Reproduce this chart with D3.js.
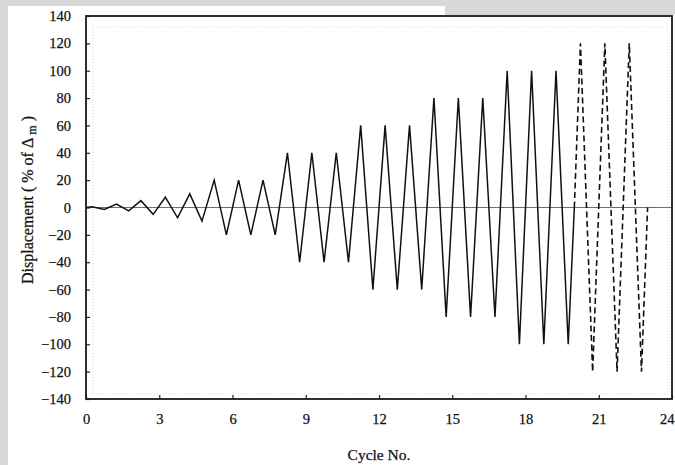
<!DOCTYPE html>
<html>
<head>
<meta charset="utf-8">
<script src="https://cdn.jsdelivr.net/npm/d3@7"></script>
<style>
  body { margin: 0; background: #fff; }
  svg { display: block; }
</style>
</head>
<body>
<div id="plot"></div>
<script>
// loading history (cycle no. / % of delta_m)
var solidCycle = [0, 0.25, 0.75, 1.25, 1.75, 2.25, 2.75, 3.25, 3.75, 4.25, 4.75,
  5.25, 5.75, 6.25, 6.75, 7.25, 7.75,
  8.25, 8.75, 9.25, 9.75, 10.25, 10.75,
  11.25, 11.75, 12.25, 12.75, 13.25, 13.75,
  14.25, 14.75, 15.25, 15.75, 16.25, 16.75,
  17.25, 17.75, 18.25, 18.75, 19.25, 19.75, 20];
var solidDisp = [0, 0.5, -1.5, 2.5, -2.5, 5, -5, 7.5, -7.5, 10, -10,
  20, -20, 20, -20, 20, -20,
  40, -40, 40, -40, 40, -40,
  60, -60, 60, -60, 60, -60,
  80, -80, 80, -80, 80, -80,
  100, -100, 100, -100, 100, -100, 0];
var dashedCycle = [20, 20.25, 20.75, 21.25, 21.75, 22.25, 22.75, 23];
var dashedDisp = [0, 120, -120, 120, -120, 120, -120, 0];

var xTicks = [0, 3, 6, 9, 12, 15, 18, 21, 24];
var yTicks = [-140, -120, -100, -80, -60, -40, -20, 0, 20, 40, 60, 80, 100, 120, 140];

var W = 675, H = 465;
var margin = {top: 16, right: 3, bottom: 66, left: 86};
var width = W - margin.left - margin.right,
  height = H - margin.top - margin.bottom;
var serif = "'Liberation Serif', 'DejaVu Serif', serif";

var svg = d3.select("#plot").append("svg")
  .attr("width", W)
  .attr("height", H);

// scanned page edges
svg.append("rect").attr("x", 0).attr("y", 0).attr("width", W).attr("height", H).attr("fill", "#d8d8d8");
svg.append("rect").attr("x", 8).attr("y", 6).attr("width", W - 8).attr("height", H - 6).attr("fill", "#fff");
svg.append("rect").attr("x", 445).attr("y", 6).attr("width", W - 445).attr("height", 9).attr("fill", "#d8d8d8");

var xScale = d3.scaleLinear().domain([0, 24]).range([0, width]);
var yScale = d3.scaleLinear().domain([-140, 140]).range([height, 0]);

var g = svg.append("g")
  .attr("transform", "translate(" + margin.left + "," + margin.top + ")");

// faint dotted inner frame from the scan
g.append("rect")
  .attr("x", 7).attr("y", 11)
  .attr("width", width - 11).attr("height", height - 16)
  .attr("fill", "none")
  .attr("stroke", "#d0d0d0")
  .attr("stroke-width", 0.8)
  .attr("stroke-dasharray", "1,2");

var xAxis = d3.axisBottom(xScale).tickValues(xTicks).tickSizeInner(-4).tickSizeOuter(0).tickPadding(15);
var yAxis = d3.axisLeft(yScale).tickValues(yTicks).tickSizeInner(-4).tickSizeOuter(0).tickPadding(15);

g.append("g")
  .attr("class", "x axis")
  .attr("transform", "translate(0," + height + ")")
  .call(xAxis);

g.append("g")
  .attr("class", "y axis")
  .call(yAxis);

g.selectAll(".axis .domain").remove();
g.selectAll(".axis line").attr("stroke", "#222").attr("stroke-width", 1.2);
g.selectAll(".axis text")
  .attr("fill", "#111")
  .attr("stroke", "#111")
  .attr("stroke-width", 0.25)
  .style("font-family", serif)
  .style("font-size", "14.5px");

// last x label sits at the page edge, keep it inside
g.selectAll(".x.axis .tick text")
  .filter(function (d) { return d === 24; })
  .attr("text-anchor", "end")
  .attr("x", 2);

// zero line
g.append("line")
  .attr("x1", 0).attr("x2", width)
  .attr("y1", yScale(0)).attr("y2", yScale(0))
  .attr("stroke", "#6e6e6e")
  .attr("stroke-width", 1.2);

var plotLine = d3.line()
  .x(function (d) { return xScale(d.x); })
  .y(function (d) { return yScale(d.y); });

var solidData = solidCycle.map(function (c, i) { return {x: c, y: solidDisp[i]}; });
var dashedData = dashedCycle.map(function (c, i) { return {x: c, y: dashedDisp[i]}; });

g.append("path")
  .datum(solidData)
  .attr("d", plotLine)
  .attr("fill", "none")
  .attr("stroke", "#111")
  .attr("stroke-width", 1.5)
  .attr("stroke-linejoin", "miter");

g.append("path")
  .datum(dashedData)
  .attr("d", plotLine)
  .attr("fill", "none")
  .attr("stroke", "#111")
  .attr("stroke-width", 1.6)
  .attr("stroke-dasharray", "6,3.5");

// frame
g.append("rect")
  .attr("x", 0).attr("y", 0)
  .attr("width", width).attr("height", height)
  .attr("fill", "none")
  .attr("stroke", "#1a1a1a")
  .attr("stroke-width", 1.8);

// axis titles
svg.append("text")
  .attr("x", margin.left + width / 2)
  .attr("y", 460)
  .attr("text-anchor", "middle")
  .attr("fill", "#111")
  .attr("stroke", "#111")
  .attr("stroke-width", 0.25)
  .style("font-family", serif)
  .style("font-size", "15.5px")
  .text("Cycle No.");

var yTitle = svg.append("text")
  .attr("transform", "translate(33,200) rotate(-90)")
  .attr("text-anchor", "middle")
  .attr("fill", "#111")
  .attr("stroke", "#111")
  .attr("stroke-width", 0.25)
  .style("font-family", serif)
  .style("font-size", "16px");
yTitle.append("tspan").text("Displacement ( % of \u0394 ");
yTitle.append("tspan").attr("dy", 3).style("font-size", "12px").text("m");
yTitle.append("tspan").attr("dy", -3).text(" )");
</script>
</body>
</html>
